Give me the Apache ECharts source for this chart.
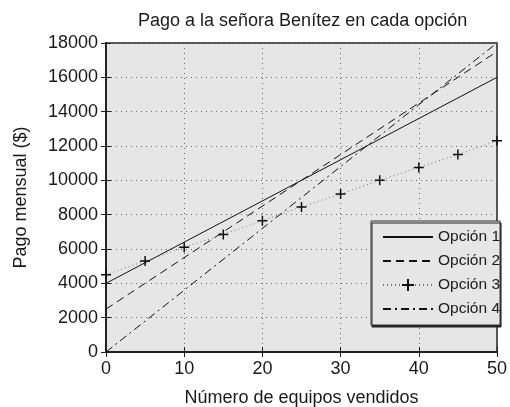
<!DOCTYPE html>
<html>
<head>
<meta charset="utf-8">
<script src="https://cdn.jsdelivr.net/npm/echarts@6/dist/echarts.min.js"></script>
<style>
  html, body { margin: 0; padding: 0; background: #fff; }
  #chart { width: 510px; height: 407px; }
</style>
</head>
<body>
<div id="chart"></div>
<script>
// Monthly payment options vs. number of units sold
const titleText = 'Pago a la señora Benítez en cada opción';
const xName = 'Número de equipos vendidos';
const yName = 'Pago mensual ($)';

// Straight-line options: endpoints at 0 and 50 units
const lineX = [0, 50];
const opcion1 = [4000, 16000];
const opcion2 = [2500, 17500];
const opcion4 = [0, 18000];

// Option 3: sampled every 5 units
const opcion3X = [0, 5, 10, 15, 20, 25, 30, 35, 40, 45, 50];
const opcion3 = [4500, 5300, 6100, 6850, 7650, 8450, 9200, 10000, 10750, 11500, 12300];

const seriesNames = ['Opción 1', 'Opción 2', 'Opción 3', 'Opción 4'];

const FONT = 'Liberation Sans, Arial, Helvetica, sans-serif';
const pairs = (xs, ys) => xs.map((x, i) => [x, ys[i]]);
const plus = 'path://M0,5L10,5M5,0L5,10';

const chart = echarts.init(document.getElementById('chart'), null, { renderer: 'canvas' });

const grid = { left: 106, right: 13, top: 43, bottom: 55 };
const tick = { show: true, inside: true, length: 5, lineStyle: { color: '#222', width: 1 } };
const dotted = { show: true, lineStyle: { color: '#666', width: 1, type: [1, 4] } };
const TXT = '#1a1a1a';

// Legend entries: plain line samples have no marker
const legendData = seriesNames.map((n, i) =>
  i === 2 ? { name: n } : { name: n, itemStyle: { opacity: 0 } });

chart.setOption({
  animation: false,
  backgroundColor: '#fff',
  textStyle: { fontFamily: FONT },
  title: {
    text: titleText,
    left: 133, top: 7,
    textStyle: { fontFamily: FONT, fontSize: 18, fontWeight: 'normal', color: TXT }
  },
  grid: Object.assign({
    show: true, backgroundColor: '#e6e6e6', borderColor: '#222', borderWidth: 1.5,
    containLabel: false, outerBoundsMode: 'none'
  }, grid),
  legend: {
    orient: 'vertical',
    left: 371, top: 221,
    data: legendData,
    itemWidth: 50, itemHeight: 15, itemGap: 8,
    padding: [8, 0, 8, 11],
    backgroundColor: '#e6e6e6',
    borderColor: '#333', borderWidth: 1,
    shadowColor: '#222', shadowOffsetX: 1, shadowOffsetY: 2, shadowBlur: 0,
    textStyle: { fontFamily: FONT, fontSize: 15.5, color: TXT },
    z: 10
  },
  xAxis: [{
    type: 'value', min: 0, max: 50, interval: 10,
    name: xName, nameLocation: 'middle', nameGap: 37,
    nameTextStyle: { fontFamily: FONT, fontSize: 18, color: TXT },
    axisLine: { show: true, lineStyle: { color: '#222', width: 2 } },
    axisTick: tick,
    axisLabel: { fontFamily: FONT, fontSize: 18, color: TXT, margin: 8 },
    splitLine: dotted
  }, {
    type: 'value', position: 'top', min: 0, max: 50, interval: 10,
    axisLine: { show: true, lineStyle: { color: '#222', width: 1.5 } },
    axisTick: tick, axisLabel: { show: false }, splitLine: { show: false }
  }],
  yAxis: [{
    type: 'value', min: 0, max: 18000, interval: 2000,
    name: yName, nameLocation: 'middle', nameGap: 76, nameRotate: 90,
    nameTextStyle: { fontFamily: FONT, fontSize: 18, color: TXT },
    axisLine: { show: true, lineStyle: { color: '#222', width: 2 } },
    axisTick: tick,
    axisLabel: { fontFamily: FONT, fontSize: 18, color: TXT, margin: 8, formatter: (v) => String(v) },
    splitLine: dotted
  }, {
    type: 'value', position: 'right', min: 0, max: 18000, interval: 2000,
    axisLine: { show: true, lineStyle: { color: '#222', width: 1.5 } },
    axisTick: tick, axisLabel: { show: false }, splitLine: { show: false }
  }],
  series: [
    {
      name: seriesNames[0], type: 'line', data: pairs(lineX, opcion1),
      symbol: 'none', color: '#111',
      lineStyle: { color: '#111', width: 1, type: 'solid' }
    },
    {
      name: seriesNames[1], type: 'line', data: pairs(lineX, opcion2),
      symbol: 'none', color: '#111',
      lineStyle: { color: '#111', width: 1, type: [8, 5] }
    },
    {
      name: seriesNames[2], type: 'line', data: pairs(opcion3X, opcion3),
      symbol: plus, symbolSize: 10, showAllSymbol: true, clip: false,
      color: '#111',
      itemStyle: { color: '#111', borderColor: '#111', borderWidth: 1.5 },
      lineStyle: { color: '#777', width: 1, type: [1, 3] }
    },
    {
      name: seriesNames[3], type: 'line', data: pairs(lineX, opcion4),
      symbol: 'none', color: '#111',
      lineStyle: { color: '#111', width: 1, type: [8, 4, 2, 4] }
    }
  ]
});
</script>
</body>
</html>
